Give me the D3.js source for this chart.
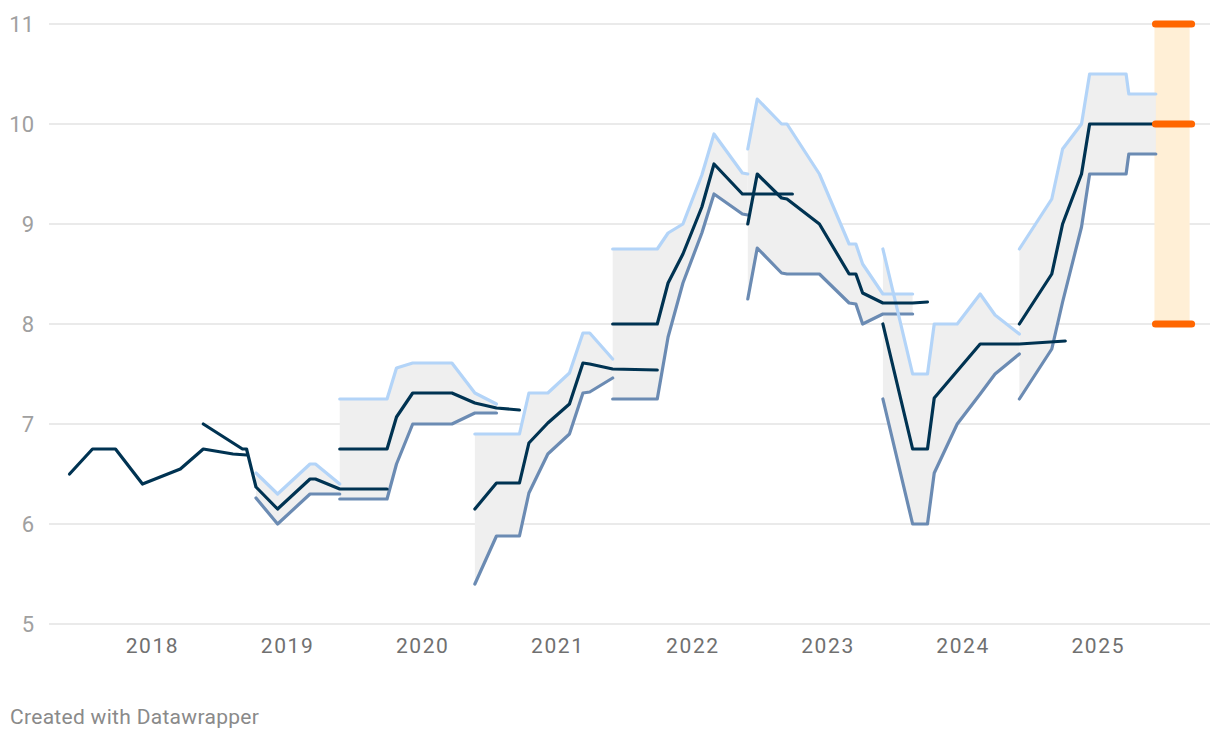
<!DOCTYPE html>
<html>
<head>
<meta charset="utf-8">
<script src="https://cdn.jsdelivr.net/npm/d3@7"></script>
<style>
  body { margin: 0; background: #fff; font-family: Roboto, "Noto Sans", sans-serif; }
  #chart svg { display: block; }
</style>
</head>
<body>
<div id="chart"></div>
<script>
// Forecast vintages: t = decimal year, hi / mid / lo = upper bound, median, lower bound
// Vintage 1 is a median line only
const v1_t   = [2017.39, 2017.56, 2017.73, 2017.93, 2018.21, 2018.38, 2018.60, 2018.70];
const v1_mid = [6.5, 6.75, 6.75, 6.4, 6.55, 6.75, 6.7, 6.69];

const v2_tMid = [2018.38, 2018.67, 2018.70, 2018.77, 2018.93, 2019.17, 2019.21, 2019.39, 2019.74];
const v2_mid  = [7.0, 6.75, 6.75, 6.37, 6.15, 6.45, 6.45, 6.35, 6.35];
const v2_t    = [2018.77, 2018.93, 2019.17, 2019.21, 2019.39];
const v2_hi   = [6.51, 6.3, 6.6, 6.6, 6.4];
const v2_lo   = [6.26, 6.0, 6.3, 6.3, 6.3];

const v3_t   = [2019.39, 2019.74, 2019.81, 2019.93, 2020.22, 2020.39, 2020.55, 2020.72];
const v3_hi  = [7.25, 7.25, 7.56, 7.61, 7.61, 7.31, 7.2];
const v3_mid = [6.75, 6.75, 7.07, 7.31, 7.31, 7.21, 7.16, 7.14];
const v3_lo  = [6.25, 6.25, 6.6, 7.0, 7.0, 7.11, 7.11];

const v4_t   = [2020.39, 2020.55, 2020.72, 2020.79, 2020.93, 2021.09, 2021.19, 2021.24, 2021.41, 2021.74];
const v4_hi  = [6.9, 6.9, 6.9, 7.31, 7.31, 7.51, 7.91, 7.91, 7.65];
const v4_mid = [6.15, 6.41, 6.41, 6.81, 7.01, 7.2, 7.61, 7.6, 7.55, 7.54];
const v4_lo  = [5.4, 5.88, 5.88, 6.31, 6.7, 6.9, 7.31, 7.32, 7.46];

const v5_t   = [2021.41, 2021.74, 2021.82, 2021.93, 2022.07, 2022.16, 2022.37, 2022.41, 2022.74];
const v5_hi  = [8.75, 8.75, 8.91, 9.0, 9.49, 9.9, 9.51, 9.5];
const v5_mid = [8.0, 8.0, 8.41, 8.7, 9.17, 9.6, 9.3, 9.3, 9.3];
const v5_lo  = [7.25, 7.25, 7.87, 8.41, 8.91, 9.3, 9.1, 9.09];

const v6_t   = [2022.41, 2022.48, 2022.66, 2022.70, 2022.94, 2023.16, 2023.21, 2023.26, 2023.41, 2023.63, 2023.74];
const v6_hi  = [9.75, 10.25, 10.0, 10.0, 9.5, 8.8, 8.8, 8.6, 8.3, 8.3];
const v6_mid = [9.0, 9.5, 9.26, 9.25, 9.0, 8.5, 8.5, 8.31, 8.21, 8.21, 8.22];
const v6_lo  = [8.25, 8.76, 8.51, 8.5, 8.5, 8.21, 8.2, 8.0, 8.1, 8.1];

const v7_t   = [2023.41, 2023.63, 2023.74, 2023.79, 2023.96, 2024.13, 2024.24, 2024.42, 2024.76];
const v7_hi  = [8.75, 7.5, 7.5, 8.0, 8.0, 8.3, 8.09, 7.9];
const v7_mid = [8.0, 6.75, 6.75, 7.26, 7.53, 7.8, 7.8, 7.8, 7.83];
const v7_lo  = [7.25, 6.0, 6.0, 6.51, 7.0, 7.3, 7.5, 7.7];

const v8_t   = [2024.42, 2024.66, 2024.74, 2024.88, 2024.94, 2025.21, 2025.23, 2025.43];
const v8_hi  = [8.75, 9.25, 9.75, 10.0, 10.5, 10.5, 10.3, 10.3];
const v8_mid = [8.0, 8.5, 9.0, 9.5, 10.0, 10.0, 10.0, 10.0];
const v8_lo  = [7.25, 7.75, 8.22, 8.97, 9.5, 9.5, 9.7, 9.7];

// Target range at the right edge
const target_t = [2025.42, 2025.68];
const target_values = [8, 10, 11];

const yTicks = [5, 6, 7, 8, 9, 10, 11];
const xTicks = [2018, 2019, 2020, 2021, 2022, 2023, 2024, 2025];

// Build vintages from the arrays
const vintages = [
  { tMid: v1_t, mid: v1_mid },
  { tMid: v2_tMid, mid: v2_mid, t: v2_t, hi: v2_hi, lo: v2_lo },
  { tMid: v3_t, mid: v3_mid, t: v3_t, hi: v3_hi, lo: v3_lo },
  { tMid: v4_t, mid: v4_mid, t: v4_t, hi: v4_hi, lo: v4_lo },
  { tMid: v5_t, mid: v5_mid, t: v5_t, hi: v5_hi, lo: v5_lo },
  { tMid: v6_t, mid: v6_mid, t: v6_t, hi: v6_hi, lo: v6_lo },
  { tMid: v7_t, mid: v7_mid, t: v7_t, hi: v7_hi, lo: v7_lo },
  { tMid: v8_t, mid: v8_mid, t: v8_t, hi: v8_hi, lo: v8_lo }
];

const width = 1220, height = 740;
const margin = { top: 24, right: 10, bottom: 116, left: 49 };

const svg = d3.select('#chart')
  .append('svg')
  .attr('width', width)
  .attr('height', height);

const x = d3.scaleLinear()
  .domain([2017.238, 2025.831])
  .range([margin.left, width - margin.right]);
const y = d3.scaleLinear()
  .domain([5, 11])
  .range([height - margin.bottom, margin.top]);

// Grid lines + y labels
svg.append('g')
  .selectAll('line')
  .data(yTicks)
  .join('line')
    .attr('x1', x.range()[0])
    .attr('x2', x.range()[1])
    .attr('y1', d => y(d))
    .attr('y2', d => y(d))
    .attr('stroke', '#e3e3e3')
    .attr('stroke-width', 1.5);

svg.append('g')
  .selectAll('text')
  .data(yTicks)
  .join('text')
    .attr('x', 34)
    .attr('y', d => y(d))
    .attr('dy', '0.36em')
    .attr('text-anchor', 'end')
    .attr('font-size', 22)
    .attr('fill', '#a0a0a0')
    .text(d => d);

// X axis labels
const xAxis = d3.axisBottom(x)
  .tickValues(xTicks)
  .tickFormat(d3.format('d'))
  .tickSize(0)
  .tickPadding(14);
const xg = svg.append('g')
  .attr('transform', `translate(0, ${y(5)})`)
  .call(xAxis);
xg.select('.domain').remove();
xg.selectAll('text')
  .attr('font-family', 'Roboto, sans-serif')
  .attr('font-size', 21)
  .attr('letter-spacing', 1.6)
  .attr('fill', '#707070');

// Target band
svg.append('rect')
  .attr('x', x(target_t[0]))
  .attr('width', x(target_t[1]) - x(target_t[0]))
  .attr('y', y(d3.max(target_values)))
  .attr('height', y(d3.min(target_values)) - y(d3.max(target_values)))
  .attr('fill', '#ffefd6');

// Range fills
const area = d3.area()
  .x(d => x(d.t))
  .y0(d => y(d.lo))
  .y1(d => y(d.hi));
const band = v => v.t.slice(0, v.hi.length).map((t, i) => ({ t, hi: v.hi[i], lo: v.lo[i] }));

svg.append('g')
  .selectAll('path')
  .data(vintages.filter(v => v.hi))
  .join('path')
    .attr('d', v => area(band(v)))
    .attr('fill', '#efefef');

const line = d3.line()
  .x(d => x(d[0]))
  .y(d => y(d[1]));

function drawLines(key, tKey, color) {
  svg.append('g')
    .selectAll('path')
    .data(vintages.filter(v => v[key]))
    .join('path')
      .attr('d', v => line(v[key].map((val, i) => [v[tKey][i], val])))
      .attr('fill', 'none')
      .attr('stroke', color)
      .attr('stroke-width', 3.2)
      .attr('stroke-linejoin', 'round')
      .attr('stroke-linecap', 'round');
}
drawLines('lo', 't', '#6b8bb3');
drawLines('hi', 't', '#b3d4f8');
drawLines('mid', 'tMid', '#003352');

// Target markers
svg.append('g')
  .selectAll('line')
  .data(target_values)
  .join('line')
    .attr('x1', x(target_t[0]) + 1)
    .attr('x2', x(target_t[1]) + 2)
    .attr('y1', d => y(d))
    .attr('y2', d => y(d))
    .attr('stroke', '#ff6600')
    .attr('stroke-width', 7)
    .attr('stroke-linecap', 'round');

// Footer
svg.append('text')
  .attr('x', 10)
  .attr('y', 724)
  .attr('font-size', 21)
  .attr('letter-spacing', 0.3)
  .attr('fill', '#8a8a8a')
  .text('Created with Datawrapper');
</script>
</body>
</html>
